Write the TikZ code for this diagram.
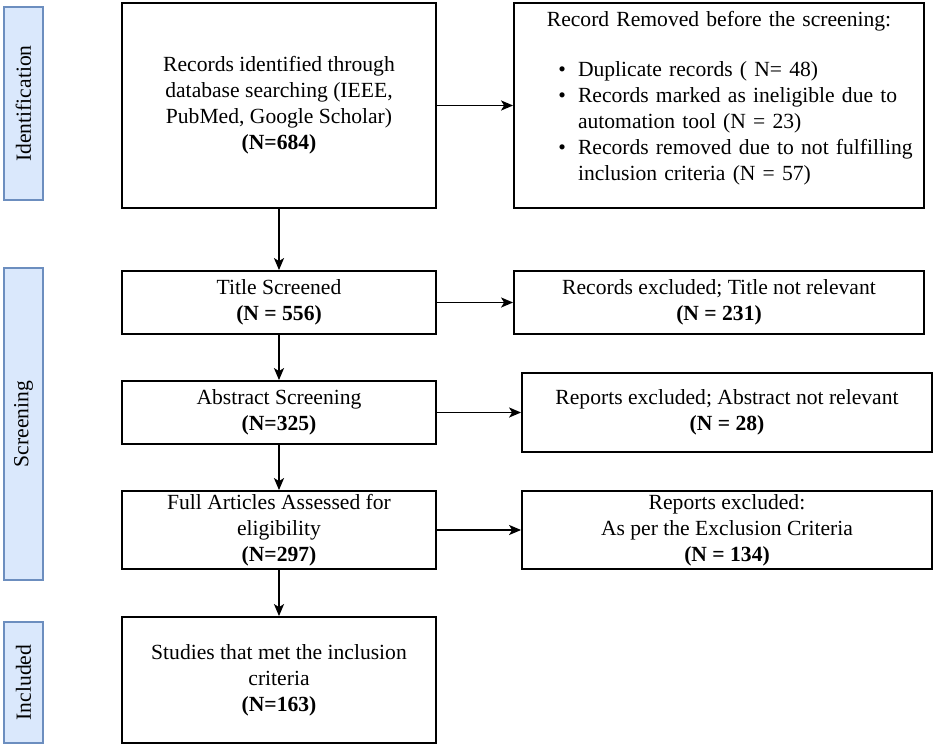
\documentclass[tikz,border=0pt]{standalone}
\usepackage{fontspec}
\setmainfont{Liberation Serif}
\usepackage{enumitem}
\definecolor{bandfill}{RGB}{218,232,252}
\definecolor{bandline}{RGB}{108,142,191}
\usetikzlibrary{arrows.meta}
\tikzset{
  box/.style={draw, line width=1.8pt, align=center, inner sep=0pt},
  band/.style={draw=bandline, fill=bandfill, line width=1.2pt, rotate=90, inner sep=0pt},
  arrow/.style={->,>={Stealth[length=12pt,width=10pt,inset=3pt]}, line width=1.8pt}
}

\begin{document}
\begin{tikzpicture}[x=1pt, y=-1pt, font=\fontsize{21.6}{26}\selectfont]
  \useasboundingbox (0,0) rectangle (935,747);
  % phase bands
  \node[band, minimum width=193pt, minimum height=39pt] (identification) at (23.5,103.5) {Identification};
  \node[band, minimum width=312pt, minimum height=39pt] (screening) at (23.5,424) {Screening};
  \node[band, minimum width=121pt, minimum height=39pt] (inclusion) at (23.5,682.5) {Included};

  % main flow
  \node[box, minimum width=314pt, minimum height=205pt] (records) at (279,105.5)
    {Records identified through\\database searching (IEEE,\\PubMed, Google Scholar)\\\textbf{(N=684)}};
  \node[box, minimum width=314pt, minimum height=63pt] (title) at (279,302.5)
    {Title Screened\\\textbf{(N = 556)}};
  \node[box, minimum width=314pt, minimum height=63pt] (abstract) at (279,412.5)
    {Abstract Screening\\\textbf{(N=325)}};
  \node[box, minimum width=314pt, minimum height=78pt] (fulltext) at (279,530)
    {Full Articles Assessed for\\eligibility\\\textbf{(N=297)}};
  \node[box, minimum width=314pt, minimum height=126pt] (included) at (279,680)
    {Studies that met the inclusion\\criteria\\\textbf{(N=163)}};

  % exclusions
  \node[box, align=left, inner xsep=10pt, inner ysep=2pt, text width=390pt, minimum height=205pt] (removed) at (719,105.5) {%
    {\centering Record Removed before the screening:\par}\vspace{24pt}
    \begin{itemize}[leftmargin=54pt, labelsep=12pt, topsep=0pt, partopsep=0pt, itemsep=0pt, parsep=0pt]
      \item Duplicate records ( N= 48)
      \item Records marked as ineligible due to\newline automation tool (N = 23)
      \item Records removed due to not fulfilling\newline inclusion criteria (N = 57)
    \end{itemize}\par\vspace{-6pt}\mbox{}};
  \node[box, minimum width=410pt, minimum height=63pt] (titleout) at (719,302.5)
    {Records excluded; Title not relevant\\\textbf{(N = 231)}};
  \node[box, minimum width=410pt, minimum height=79pt] (abstractout) at (727,412.5)
    {Reports excluded; Abstract not relevant\\\textbf{(N = 28)}};
  \node[box, minimum width=410pt, minimum height=78pt] (fulltextout) at (727,530)
    {Reports excluded:\\As per the Exclusion Criteria\\\textbf{(N = 134)}};

  \draw[arrow] (records) -- (title);
  \draw[arrow] (title) -- (abstract);
  \draw[arrow] (abstract) -- (fulltext);
  \draw[arrow] (fulltext) -- (included);
  \draw[arrow] (records) -- (removed);
  \draw[arrow] (title) -- (titleout);
  \draw[arrow] (abstract) -- (abstractout);
  \draw[arrow] (fulltext) -- (fulltextout);
\end{tikzpicture}
\end{document}
